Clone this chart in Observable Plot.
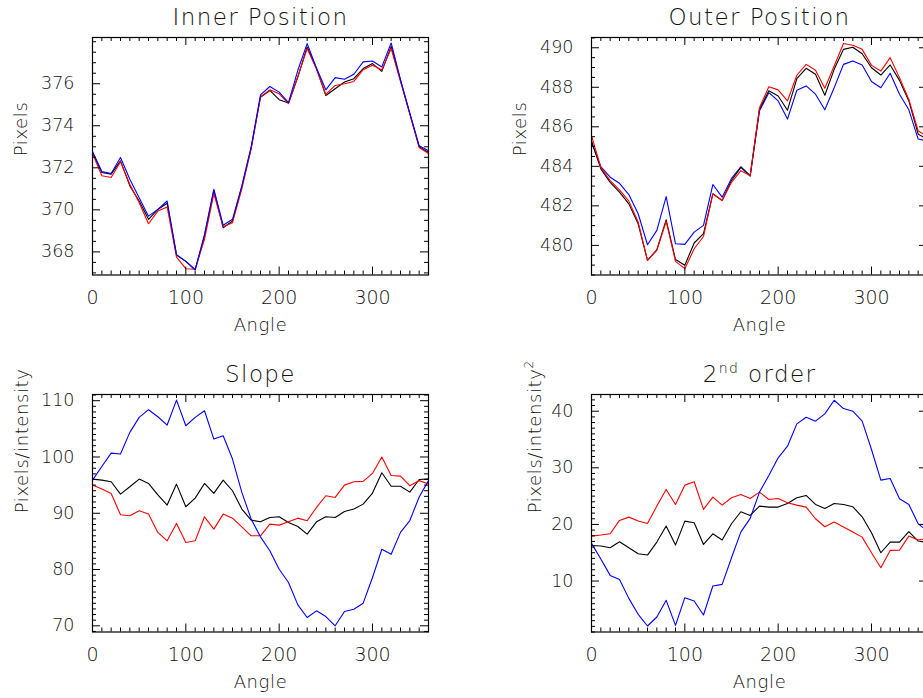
<!DOCTYPE html>
<html>
<head>
<meta charset="utf-8">
<script src="https://cdn.jsdelivr.net/npm/d3@7"></script>
<script src="https://cdn.jsdelivr.net/npm/@observablehq/plot@0.6"></script>
<style>
  html, body { margin: 0; padding: 0; background: #fff; }
  #wrap { position: relative; width: 923px; height: 698px; overflow: hidden; background: #fff; }
  .panel { position: absolute; width: 460px; height: 340px; }
  .panel svg { max-width: none !important; }
</style>
</head>
<body>
<div id="wrap"></div>
<script>
// ---------- data ----------
const angles = [0,10,20,30,40,50,60,70,80,90,100,110,120,130,140,150,160,170,180,190,200,210,220,230,240,250,260,270,280,290,300,310,320,330,340,350,360];

const innerBlack = [372.73,371.78,371.70,372.33,371.14,370.42,369.55,370.02,370.31,367.85,367.55,367.15,368.75,370.93,369.15,369.47,371.10,372.95,375.36,375.68,375.24,375.08,376.32,377.75,376.72,375.44,375.76,376.08,376.24,376.72,376.96,376.59,377.78,376.16,374.57,373.00,372.73];
const innerBlue  = [372.78,371.82,371.73,372.49,371.46,370.58,369.70,370.02,370.42,367.87,367.55,367.15,368.83,370.98,369.27,369.55,371.14,373.00,375.47,375.87,375.60,375.10,376.64,377.91,376.75,375.71,376.29,376.21,376.45,377.04,377.08,376.80,377.94,376.20,374.60,373.05,372.81];
const innerRed   = [372.68,371.62,371.54,372.29,371.22,370.34,369.34,369.94,370.14,367.75,367.20,367.18,368.60,370.77,369.20,369.39,371.00,372.90,375.38,375.71,375.52,375.05,376.35,377.67,376.70,375.49,375.92,376.00,376.11,376.67,376.88,376.65,377.67,376.10,374.55,372.97,372.68];

const outerBlack = [485.29,483.87,483.19,482.69,482.10,481.09,479.24,479.78,481.29,479.28,478.99,480.12,480.59,482.61,482.27,483.28,483.95,483.50,486.90,487.82,487.56,486.84,488.44,488.96,488.66,487.60,488.91,489.92,490.03,489.70,488.99,488.62,489.13,488.35,487.31,485.63,485.35];
const outerBlue  = [485.21,483.98,483.45,483.14,482.57,481.60,480.03,480.76,482.47,480.08,480.05,480.67,481.01,483.08,482.44,483.39,483.98,483.53,486.81,487.73,487.31,486.39,487.85,488.07,487.65,486.86,487.98,489.16,489.33,489.13,488.29,487.98,488.71,487.65,486.86,485.38,485.28];
const outerRed   = [485.55,483.95,483.28,482.81,482.24,481.18,479.24,479.75,481.21,479.19,478.82,479.83,480.45,482.61,482.27,483.19,483.78,483.53,486.97,488.03,487.87,487.31,488.61,489.16,488.86,487.95,489.08,490.22,490.13,489.92,489.11,488.82,489.50,488.49,487.39,485.80,485.50];

const slopeBlack = [96.07,95.89,95.60,93.40,94.70,96.07,95.30,93.28,91.45,95.18,91.15,92.69,95.30,93.52,95.89,94.00,90.74,88.78,88.48,89.25,89.37,88.36,87.65,86.29,88.48,89.37,89.25,90.32,90.74,91.62,93.58,97.20,94.80,94.80,93.75,96.00,96.10];
const slopeBlue  = [95.89,98.30,100.69,100.52,104.37,107.04,108.40,107.15,105.67,110.10,105.55,107.04,108.22,103.18,103.78,99.63,93.70,88.96,85.81,83.33,80.06,77.69,73.72,71.47,72.66,71.65,70.00,72.54,72.95,74.02,78.58,83.60,82.70,86.60,88.70,92.90,95.80];
const slopeRed   = [95.00,94.29,93.52,89.73,89.55,90.44,89.85,86.59,85.10,88.19,84.81,85.10,89.37,87.18,89.85,89.13,87.59,85.99,85.99,88.07,87.89,88.48,89.13,88.66,91.03,93.11,92.81,95.00,95.60,95.66,97.08,100.00,96.70,96.60,94.90,95.80,95.20];

const secondBlack = [16.29,16.18,15.88,16.94,15.88,14.82,14.59,16.88,19.71,16.35,20.59,20.29,16.47,18.35,17.24,20.12,22.24,21.59,23.24,23.06,23.06,23.71,24.71,25.12,23.53,22.82,23.71,23.53,23.12,21.35,18.53,15.00,16.88,16.88,18.71,17.06,16.80];
const secondBlue  = [16.65,13.90,11.00,10.29,6.94,4.12,2.06,3.65,6.59,2.18,7.06,6.47,4.00,9.12,9.41,14.12,18.65,21.06,25.71,28.65,31.76,33.82,37.76,38.94,38.24,39.53,41.94,40.47,40.00,38.24,33.24,27.82,28.12,24.53,23.53,20.12,18.80];
const secondRed   = [17.94,18.12,18.35,20.71,21.29,20.59,20.18,23.24,26.18,23.53,26.94,27.53,22.65,24.82,23.41,24.71,25.29,24.59,25.71,24.41,24.59,23.82,23.41,23.06,21.00,19.59,20.41,19.53,18.65,17.76,15.00,12.35,15.41,15.47,17.94,17.24,17.50];

const xMajorTicks = [0,100,200,300];
const xMinorTicks = d3.range(0, 361, 10);

const panelTitles = ["Inner Position", "Outer Position", "Slope", "2nd order"];
const yTitles = ["Pixels", "Pixels", "Pixels/intensity", "Pixels/intensity2"];
const xTitle = "Angle";

const innerYMajor = [368,370,372,374,376];
const outerYMajor = [480,482,484,486,488,490];
const slopeYMajor = [70,80,90,100,110];
const secondYMajor = [10,20,30,40];

// ---------- drawing ----------
const FONT = "'DejaVu Sans', 'Open Sans', sans-serif";
const TXT = "#111";
const W = 460, H = 340, ML = 92, MT = 37, FW = 336, FH = 237.5;
const MR = W - ML - FW, MB = H - MT - FH;

function panel({left, top, domain, yMajor, yMinorStep, series, title, ytitle, ytitleDx}) {
  const yMinor = d3.range(Math.ceil(domain[0] / yMinorStep) * yMinorStep, domain[1], yMinorStep)
    .filter(v => !yMajor.some(m => Math.abs(m - v) < 1e-6));
  const xMinor = xMinorTicks.filter(v => !xMajorTicks.includes(v));
  const majLen = 8, minLen = 4;
  const lines = series.map(s => Plot.line(s.values, {x: (d, i) => angles[i], y: d => d, stroke: s.color, strokeWidth: 1.1}));
  const chart = Plot.plot({
    width: W, height: H,
    marginLeft: ML, marginTop: MT, marginRight: MR, marginBottom: MB,
    x: {domain: [0, 360]},
    y: {domain},
    style: {fontFamily: FONT, fontSize: "18px", fontWeight: 200, color: TXT, background: "white", overflow: "visible", maxWidth: "none"},
    marks: [
      ...lines,
      // x ticks bottom & top
      Plot.ruleX(xMinor, {x: d => d, insetTop: FH - minLen, stroke: "black"}),
      Plot.ruleX(xMajorTicks, {x: d => d, insetTop: FH - majLen, stroke: "black"}),
      Plot.ruleX(xMinor, {x: d => d, insetBottom: FH - minLen, stroke: "black"}),
      Plot.ruleX(xMajorTicks, {x: d => d, insetBottom: FH - majLen, stroke: "black"}),
      // y ticks left & right
      Plot.ruleY(yMinor, {y: d => d, insetRight: FW - minLen, stroke: "black"}),
      Plot.ruleY(yMajor, {y: d => d, insetRight: FW - majLen, stroke: "black"}),
      Plot.ruleY(yMinor, {y: d => d, insetLeft: FW - minLen, stroke: "black"}),
      Plot.ruleY(yMajor, {y: d => d, insetLeft: FW - majLen, stroke: "black"}),
      Plot.frame({stroke: "black", strokeWidth: 1.2}),
      Plot.axisX(xMajorTicks, {anchor: "bottom", tickSize: 0, tickPadding: 15, label: null, fontSize: 19, fill: TXT}),
      Plot.axisY(yMajor, {anchor: "left", tickSize: 0, tickPadding: 18, label: null, fontSize: 17.5, fill: TXT}),
      Plot.text([xTitle], {frameAnchor: "bottom", lineAnchor: "middle", dy: 50, fontSize: 18, fill: TXT}),
      Plot.text([ytitle], {frameAnchor: "left", lineAnchor: "middle", dx: ytitleDx, rotate: -90, fontSize: 18, fill: TXT}),
      Plot.text([title], {frameAnchor: "top", lineAnchor: "middle", dy: -20, fontSize: 23, fill: TXT})
    ]
  });
  const svg = d3.select(chart);
  svg.style("max-width", "none");
  // spacing + superscripts
  svg.selectAll("text").each(function() {
    const sel = d3.select(this);
    const t = this.textContent;
    if (t === title) sel.attr("letter-spacing", 1.4);
    if (t === ytitle || t === xTitle) sel.attr("letter-spacing", 0.6);
    if (t === "2nd order") {
      sel.text(null);
      sel.append("tspan").text("2");
      sel.append("tspan").attr("font-size", 14).attr("dy", -9).text("nd");
      sel.append("tspan").attr("dy", 9).text(" order");
    }
    if (t === "Pixels/intensity2") {
      sel.text(null);
      sel.append("tspan").text("Pixels/intensity");
      sel.append("tspan").attr("font-size", 12).attr("dy", -8).text("2");
    }
  });
  const div = document.createElement("div");
  div.className = "panel";
  div.style.left = left + "px";
  div.style.top = top + "px";
  div.appendChild(chart);
  document.getElementById("wrap").appendChild(div);
}

const blk = "#000000", blu = "#0000ff", rd = "#ff0000";

panel({left: 0, top: 0, domain: [366.9, 378.2], yMajor: innerYMajor, yMinorStep: 0.5,
  series: [{values: innerBlack, color: blk}, {values: innerRed, color: rd}, {values: innerBlue, color: blu}],
  title: panelTitles[0], ytitle: yTitles[0], ytitleDx: -71});
panel({left: 499, top: 0, domain: [478.5, 490.52], yMajor: outerYMajor, yMinorStep: 0.5,
  series: [{values: outerBlue, color: blu}, {values: outerBlack, color: blk}, {values: outerRed, color: rd}],
  title: panelTitles[1], ytitle: yTitles[1], ytitleDx: -71});
panel({left: 0, top: 357, domain: [68.9, 111.1], yMajor: slopeYMajor, yMinorStep: 1,
  series: [{values: slopeBlack, color: blk}, {values: slopeRed, color: rd}, {values: slopeBlue, color: blu}],
  title: panelTitles[2], ytitle: yTitles[2], ytitleDx: -70});
panel({left: 499, top: 357, domain: [1.0, 42.95], yMajor: secondYMajor, yMinorStep: 1,
  series: [{values: secondBlack, color: blk}, {values: secondRed, color: rd}, {values: secondBlue, color: blu}],
  title: panelTitles[3], ytitle: yTitles[3], ytitleDx: -56});
</script>
</body>
</html>
